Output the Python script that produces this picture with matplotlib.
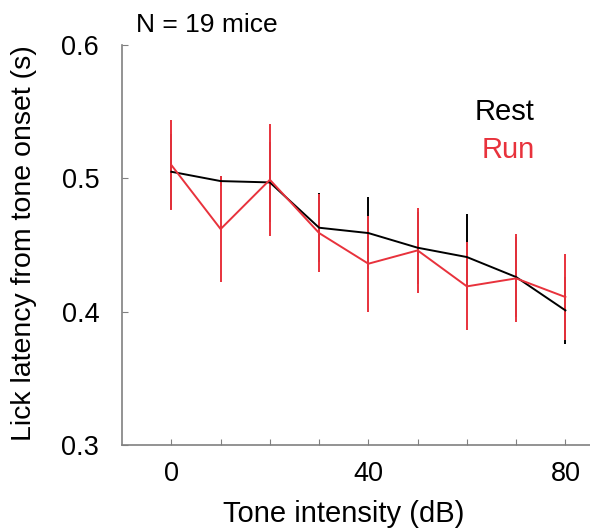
import matplotlib.pyplot as plt
import numpy as np

plt.rcParams['font.family'] = ['Liberation Sans', 'DejaVu Sans']

intensity = [0, 10, 20, 30, 40, 50, 60, 70, 80]
rest_mean = [0.505, 0.498, 0.497, 0.463, 0.459, 0.448, 0.441, 0.426, 0.401]
rest_err = [0.028, 0.004, 0.030, 0.026, 0.027, 0.027, 0.032, 0.030, 0.025]
run_mean = [0.510, 0.462, 0.499, 0.459, 0.436, 0.446, 0.419, 0.425, 0.411]
run_err = [0.034, 0.040, 0.042, 0.029, 0.036, 0.032, 0.033, 0.033, 0.032]

red = '#e8323c'

fig = plt.figure(figsize=(5.9, 5.31), dpi=100)
ax = fig.add_axes([0.207, 0.162, 0.793, 0.753])

ax.errorbar(intensity, rest_mean, yerr=rest_err, color='black', lw=1.4,
            elinewidth=1.4, capsize=0)
ax.errorbar(intensity, run_mean, yerr=run_err, color=red, lw=1.4,
            elinewidth=1.4, capsize=0)

ax.set_xlim(-10, 85)
ax.set_ylim(0.3, 0.6)
ax.set_xticks(np.arange(0, 81, 10))
ax.set_xticklabels(['0', '', '', '', '40', '', '', '', '80'])
ax.set_yticks([0.3, 0.4, 0.5, 0.6])
ax.set_yticklabels(['0.3', '0.4', '0.5', '0.6'])
ax.tick_params(direction='in', length=4, color='#808080', labelsize=19.5)
ax.tick_params(axis='y', pad=16.5)
ax.tick_params(axis='x', pad=11.5)

for s in ['top', 'right']:
    ax.spines[s].set_visible(False)
for s in ['left', 'bottom']:
    ax.spines[s].set_color('#808080')
    ax.spines[s].set_linewidth(1.2)

fig.text(0.582, 0.032, 'Tone intensity (dB)', fontsize=21, ha='center', va='center')
fig.text(0.0415, 0.542, 'Lick latency from tone onset (s)', fontsize=20.5,
         rotation=90, ha='center', va='center')

fig.text(0.23, 0.952, 'N = 19 mice', fontsize=19, va='center')
fig.text(0.805, 0.789, 'Rest', fontsize=21, color='black', va='center')
fig.text(0.817, 0.7175, 'Run', fontsize=21, color=red, va='center')

fig.savefig('out.png', dpi=100)
